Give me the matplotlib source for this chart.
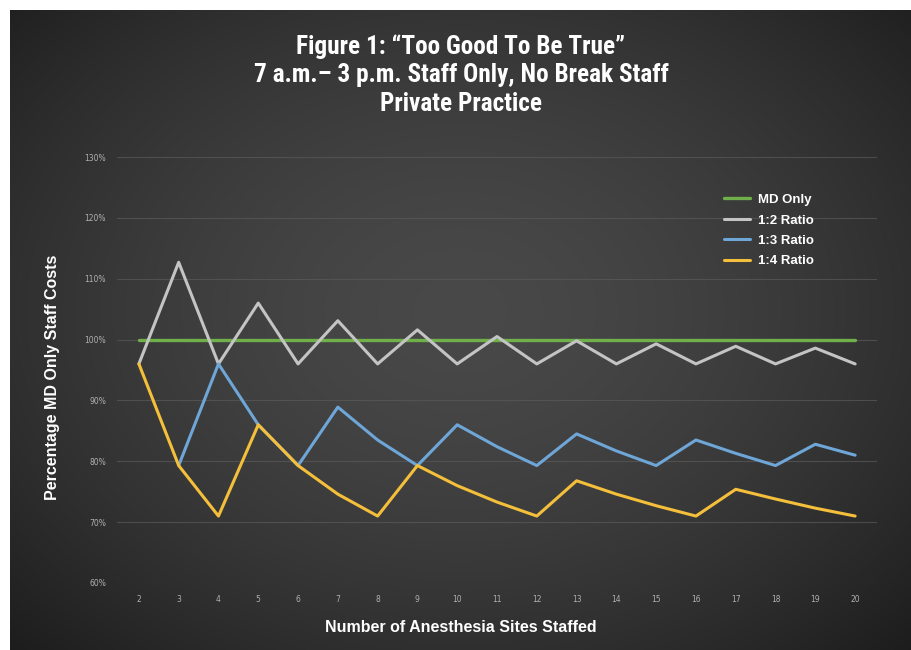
import numpy as np
import matplotlib
matplotlib.use("Agg")
import matplotlib.pyplot as plt

# data
sites = list(range(2, 21))
md_only = [100] * 19
ratio_1_2 = [96, 112.7, 96, 106, 96, 103.1, 96, 101.6, 96, 100.5, 96, 99.8, 96, 99.3, 96, 98.9, 96, 98.6, 96]
sites_1_3 = list(range(3, 21))
ratio_1_3 = [79.3, 96, 86, 79.3, 88.9, 83.5, 79.3, 86, 82.4, 79.3, 84.5, 81.7, 79.3, 83.5, 81.3, 79.3, 82.8, 81]
ratio_1_4 = [96, 79.3, 71, 86, 79.3, 74.6, 71, 79.3, 76, 73.3, 71, 76.8, 74.6, 72.7, 71, 75.4, 73.8, 72.3, 71]

yticks = [60, 70, 80, 90, 100, 110, 120, 130]
series_names = ["MD Only", "1:2 Ratio", "1:3 Ratio", "1:4 Ratio"]
colors = ["#6fb04a", "#c4c4c4", "#6fa6d8", "#f4bf3a"]

W, H = 911, 650
fig = plt.figure(figsize=(W / 100, H / 100), dpi=100)
fig.patch.set_facecolor("white")

# dark radial gradient background, offset by a thin white border top/left
bg = fig.add_axes([10 / W, 0, (W - 10) / W, (H - 10) / H])
bg.set_axis_off()
yy, xx = np.mgrid[0:640, 0:901]
r = np.sqrt(((xx - 450) / 560.0) ** 2 + ((yy - 300) / 420.0) ** 2)
val = 0.285 - 0.14 * np.clip(r, 0, 1.2) ** 1.6
bg.imshow(np.dstack([val, val, val]), aspect="auto", extent=[0, 1, 0, 1], zorder=0)
bg.set_xlim(0, 1)
bg.set_ylim(0, 1)

ax = fig.add_axes([117 / W, 1 - 583 / H, (877 - 117) / W, (583 - 157) / H])
ax.patch.set_alpha(0)
ax.plot(sites, md_only, color=colors[0], lw=2.4, label=series_names[0], solid_capstyle="round")
ax.plot(sites, ratio_1_2, color=colors[1], lw=2.2, label=series_names[1], solid_capstyle="round")
ax.plot(sites_1_3, ratio_1_3, color=colors[2], lw=2.2, label=series_names[2], solid_capstyle="round")
ax.plot(sites, ratio_1_4, color=colors[3], lw=2.2, label=series_names[3], solid_capstyle="round")

ax.set_xlim(1.45, 20.55)
ax.set_ylim(60, 130)
ax.set_yticks(yticks)
ax.set_yticklabels([f"{v}%" for v in yticks])
ax.set_xticks(sites)
ax.grid(axis="y", color="#5a5a5a", lw=0.8, alpha=0.7)
ax.set_axisbelow(True)
for s in ax.spines.values():
    s.set_visible(False)
ax.tick_params(length=0, colors="#b0b0b0", labelsize=5.5)
ax.tick_params(axis="y", pad=8)
ax.tick_params(axis="x", pad=9)

leg = ax.legend(loc="upper left", bbox_to_anchor=((712 - 117) / 760, 1 - (182 - 157) / 426),
                frameon=False, handlelength=2.0, handletextpad=0.6, labelspacing=0.62,
                prop={"weight": "bold", "size": 9.5, "family": "Liberation Sans"})
for t in leg.get_texts():
    t.set_color("white")

title_font = ["Roboto Condensed", "Liberation Sans"]
fig.text(461 / W, 1 - 34 / H, "Figure 1: \u201cToo Good To Be True\u201d\n7 a.m.\u2013 3 p.m. Staff Only, No Break Staff\nPrivate Practice",
         ha="center", va="top", color="white", fontsize=18.2, fontweight="bold",
         family=title_font, linespacing=1.24)
fig.text(53 / W, 1 - 377 / H, "Percentage MD Only Staff Costs", rotation=90, ha="center", va="center",
         color="white", fontsize=11.5, fontweight="bold", family="Liberation Sans")
fig.text(461 / W, 1 - 628 / H, "Number of Anesthesia Sites Staffed", ha="center", va="center",
         color="white", fontsize=11.5, fontweight="bold", family="Liberation Sans")

fig.savefig("out.png", dpi=100, facecolor=fig.get_facecolor())
